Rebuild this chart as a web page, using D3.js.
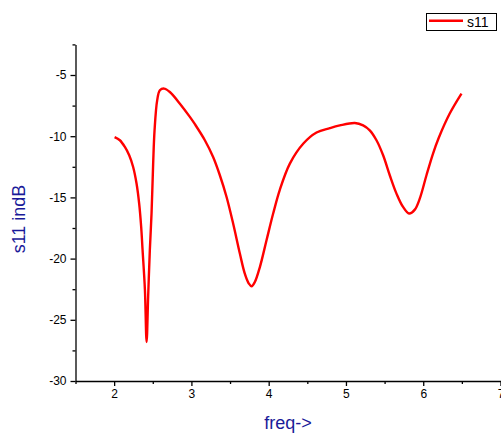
<!DOCTYPE html>
<html><head><meta charset="utf-8">
<script src="https://cdn.jsdelivr.net/npm/d3@7"></script>
<style>body{margin:0;background:#fff;overflow:hidden}svg{display:block}</style>
</head><body>
<script>
const freq = [2.006,2.074,2.139,2.195,2.246,2.290,2.324,2.350,2.368,2.398,2.420,2.440,2.462,2.484,2.505,2.523,2.557,2.592,2.647,2.721,2.851,2.980,3.045,3.174,3.281,3.368,3.455,3.540,3.627,3.691,3.743,3.778,3.821,3.886,3.972,4.058,4.144,4.274,4.446,4.619,4.791,4.920,5.115,5.222,5.308,5.395,5.481,5.567,5.654,5.739,5.817,5.891,5.955,6.042,6.127,6.200,6.343,6.495];
const s11 = [-10.07,-10.33,-10.88,-11.56,-12.52,-13.87,-15.51,-17.42,-19.30,-22.50,-26.81,-23.14,-19.30,-16.32,-12.24,-9.52,-7.07,-6.25,-6.11,-6.39,-7.34,-8.42,-9.02,-10.33,-11.70,-13.19,-14.97,-17.14,-19.59,-21.23,-22.04,-22.26,-21.91,-20.69,-18.50,-16.32,-14.38,-12.24,-10.62,-9.70,-9.34,-9.12,-8.92,-9.11,-9.52,-10.33,-11.56,-13.19,-14.69,-15.78,-16.32,-16.00,-15.10,-13.19,-11.42,-10.15,-8.15,-6.52];
const xTicks = [2,3,4,5,6,7];
const xMinor = [1.5,2.5,3.5,4.5,5.5,6.5];
const yTicks = [-30,-25,-20,-15,-10,-5];
const yMinor = [-27.5,-22.5,-17.5,-12.5,-7.5,-2.5];
const seriesName = "s11";
const xLabel = "freq->";
const yLabel = "s11 indB";

const W = 501, H = 436;
const svg = d3.select("body").append("svg").attr("width", W).attr("height", H);
const x = d3.scaleLinear().domain([1.5, 7]).range([75.5, 500.5]);
const y = d3.scaleLinear().domain([-30, -2.5]).range([381, 44.4]);
const font = "Arial, 'Liberation Sans', sans-serif";

// curve
const line = d3.line().x((d,i)=>x(freq[i])).y((d,i)=>y(s11[i])).curve(d3.curveCatmullRom.alpha(0.5));
svg.append("path").datum(s11).attr("d", line).attr("fill","none")
  .attr("stroke","#ff0000").attr("stroke-width",2.4).attr("stroke-linejoin","round");

// x axis
const gx = svg.append("g").attr("transform","translate(0,381)");
gx.call(d3.axisBottom(x).tickValues(xTicks).tickSize(5).tickSizeOuter(0).tickPadding(3).tickFormat(d3.format("d")));
gx.append("g").call(d3.axisBottom(x).tickValues(xMinor).tickSize(3).tickSizeOuter(0).tickFormat(""))
  .select(".domain").remove();
// y axis
const gy = svg.append("g").attr("transform","translate(75.5,0)");
gy.call(d3.axisLeft(y).tickValues(yTicks).tickSize(5).tickSizeOuter(0).tickPadding(4).tickFormat(d=>String(d)));
gy.append("g").call(d3.axisLeft(y).tickValues(yMinor).tickSize(3).tickSizeOuter(0).tickFormat(""))
  .select(".domain").remove();
svg.selectAll(".domain, .tick line").attr("stroke","#000").attr("stroke-width",1.3);
svg.selectAll(".tick text").attr("font-family",font).attr("font-size",12).attr("fill","#000");

// axis titles
svg.append("text").attr("x",288).attr("y",428.5).attr("text-anchor","middle")
  .attr("font-family",font).attr("font-size",18).attr("fill","#1a1a99").text(xLabel);
svg.append("text").attr("transform","translate(24.5,219) rotate(-90)").attr("text-anchor","middle")
  .attr("font-family",font).attr("font-size",18).attr("fill","#1a1a99").text(yLabel);

// legend
const lg = svg.append("g");
lg.append("rect").attr("x",426.5).attr("y",13.5).attr("width",70).attr("height",17)
  .attr("fill","#fff").attr("stroke","#000").attr("stroke-width",1);
lg.append("line").attr("x1",429).attr("x2",463).attr("y1",20.7).attr("y2",20.7)
  .attr("stroke","#ff0000").attr("stroke-width",2.4);
lg.append("text").attr("x",467).attr("y",27).attr("font-family",font).attr("font-size",14).attr("fill","#000").text(seriesName);
</script>
</body></html>
